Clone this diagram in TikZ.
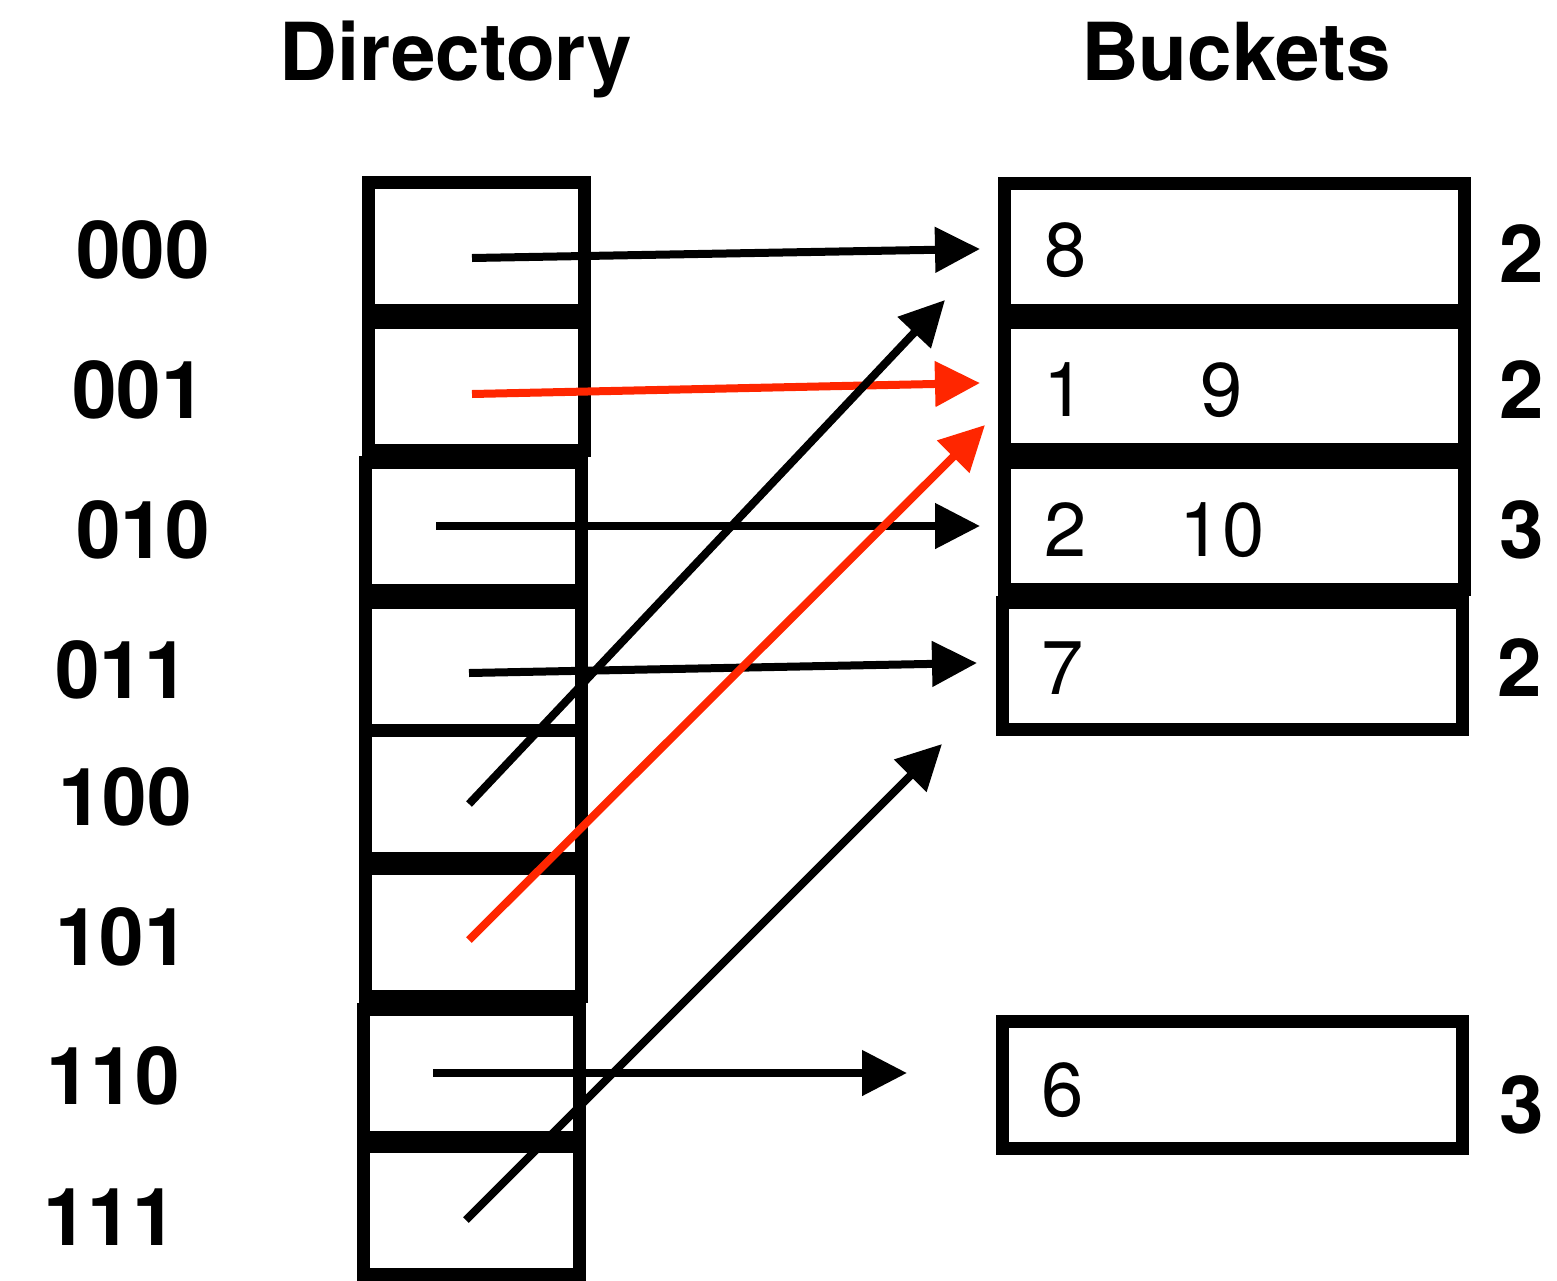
\documentclass[tikz,border=0pt]{standalone}
\usepackage{fontspec}
\setmainfont{TeX Gyre Heros}
\usepackage{tikz}
\usetikzlibrary{arrows.meta}
\definecolor{ptrred}{RGB}{255,38,0}

\begin{document}
\begin{tikzpicture}[x=0.5pt,y=0.5pt,yscale=-1,
  dircell/.style={draw,line width=6.5pt,inner sep=0pt,minimum width=108pt,minimum height=64pt},
  bktbox/.style={draw,line width=6.5pt,inner sep=0pt,minimum width=230pt,minimum height=63.5pt},
  ptr/.style={line width=4pt,-{Triangle[length=22.5pt,width=22pt]}},
  hashlbl/.style={font=\fontsize{40}{40}\selectfont\bfseries,inner sep=0pt},
  keylbl/.style={font=\fontsize{38}{38}\selectfont,inner sep=0pt}]
\useasboundingbox (0,0) rectangle (1557,1280);

% Text Node
\node [hashlbl,anchor=base] (dirhead) at (456,80) {Directory};
% Text Node
\node [hashlbl,anchor=base] (bkthead) at (1236,80) {Buckets};

%Shape: Rectangle (directory)
\node [dircell] (c0) at (476,246) {};
\node [dircell] (c1) at (476,386) {};
\node [dircell] (c2) at (473,526) {};
\node [dircell] (c3) at (473,666) {};
\node [dircell] (c4) at (473,794) {};
\node [dircell] (c5) at (473,932) {};
\node [dircell] (c6) at (471,1073) {};
\node [dircell] (c7) at (471,1210) {};

%Shape: Rectangle (buckets)
\node [bktbox] (b0) at (1234,246.5) {};
\node [bktbox] (b1) at (1234,385.5) {};
\node [bktbox] (b2) at (1234,525.5) {};
\node [bktbox] (b3) at (1232,665.5) {};
\node [bktbox] (b4) at (1232,1085) {};

% Text Node
\node [hashlbl] (h0) at (143,250) {000};
\node [hashlbl] (h1) at (139,390) {001};
\node [hashlbl] (h2) at (143,530) {010};
\node [hashlbl] (h3) at (122,670) {011};
\node [hashlbl] (h4) at (125,797) {100};
\node [hashlbl] (h5) at (122,937) {101};
\node [hashlbl] (h6) at (113,1076) {110};
\node [hashlbl] (h7) at (110,1217) {111};

% Text Node
\node [keylbl] (k8) at (1066,250) {8};
\node [keylbl] (k1) at (1065,390) {1};
\node [keylbl] (k9) at (1222,390) {9};
\node [keylbl] (k2) at (1066,530) {2};
\node [keylbl] (k10) at (1222,530) {10};
\node [keylbl] (k7) at (1063,668) {7};
\node [keylbl] (k6) at (1063,1090) {6};

% Text Node
\node [hashlbl] (d0) at (1522,254) {2};
\node [hashlbl] (d1) at (1522,390) {2};
\node [hashlbl] (d2) at (1522,530) {3};
\node [hashlbl] (d3) at (1520,668) {2};
\node [hashlbl] (d4) at (1522,1105) {3};

% pointer ends
\coordinate (s0) at (472,258);  \coordinate (e0) at (980,249);
\coordinate (s1) at (472,394);  \coordinate (e1) at (980,383);
\coordinate (s2) at (436,526);  \coordinate (e2) at (980,526);
\coordinate (s3) at (469,673);  \coordinate (e3) at (977,663);
\coordinate (s4) at (469,804);  \coordinate (e4) at (945,300);
\coordinate (s5) at (469,940);  \coordinate (e5) at (985,425);
\coordinate (s6) at (433,1073); \coordinate (e6) at (907,1073);
\coordinate (s7) at (466,1220); \coordinate (e7) at (942,744);

%Straight Lines
\draw [ptr] (s0) -- (e0);
\draw [ptr,ptrred] (s1) -- (e1);
\draw [ptr] (s2) -- (e2);
\draw [ptr] (s3) -- (e3);
\draw [ptr] (s6) -- (e6);
%Straight Lines
\draw [ptr] (s4) -- (e4);
\draw [ptr,ptrred] (s5) -- (e5);
\draw [ptr] (s7) -- (e7);

\end{tikzpicture}
\end{document}
